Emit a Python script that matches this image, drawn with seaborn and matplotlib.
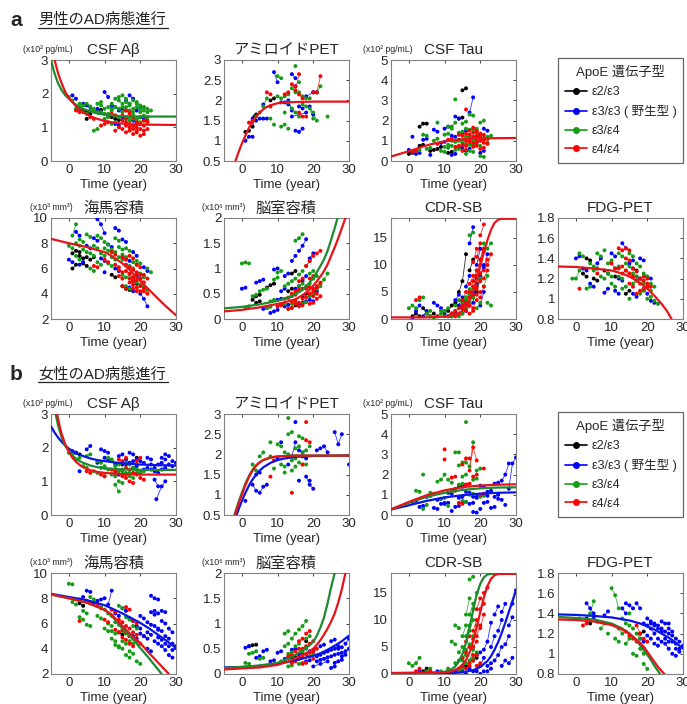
import pandas as pd
import seaborn as sns
import matplotlib.pyplot as plt
from matplotlib.lines import Line2D

GENO = ['e23', 'e33', 'e34', 'e44']
GENO_LABELS = ['ε2/ε3', 'ε3/ε3 ( 野生型 )', 'ε3/ε4', 'ε4/ε4']
COLORS = {'e23': '#000000', 'e33': '#0000ff', 'e34': '#159c15', 'e44': '#ff0000'}
FIT_COLORS = {'e23': '#000000', 'e33': '#0a14e6', 'e34': '#1c8a30', 'e44': '#e6141a'}

# ---------------- male (a) ----------------
M_ABETA = {
    'e23': [[(3, 1.55), (4, 1.5)], [(5, 1.45), (6, 1.4)], [(8, 1.5), (9, 1.52)], [(11, 1.35), (12, 1.3)],
            [(13, 1.25), (14, 1.22)], [(5, 1.25)]],
    'e33': [[(1, 1.95), (2, 1.85)], [(4, 1.7), (5, 1.65), (6, 1.6)], [(10, 2.05), (11, 1.9)], [(14, 1.5), (15, 1.55)],
            [(16, 1.8), (17, 1.7)], [(18, 1.2), (19, 1.1)], [(20, 1.3), (21, 1.25)], [(13, 1.1), (14, 1.05)],
            [(17, 1.95), (18, 1.85)], [(15, 1.3), (16, 1.25)], [(19, 1.5), (20, 1.6)], [(8, 1.55), (9, 1.45)],
            [(12, 1.65), (13, 1.6)]],
    'e34': [[(0, 1.9), (1, 1.8)], [(2, 1.55), (3, 1.6)], [(5, 1.7), (6, 1.62)], [(7, 1.5), (8, 1.45)],
            [(9, 1.65), (10, 1.55)], [(11, 1.4), (12, 1.5)], [(12, 1.7), (13, 1.6)], [(13, 1.35), (14, 1.3)],
            [(14, 1.8), (15, 1.7)], [(15, 1.45), (16, 1.5)], [(16, 1.6), (17, 1.65)], [(17, 1.3), (18, 1.35)],
            [(18, 1.55), (19, 1.6)], [(19, 1.7), (20, 1.65)], [(20, 1.45), (21, 1.5)], [(21, 1.6), (22, 1.55)],
            [(22, 1.45), (23, 1.5)], [(13, 1.85), (14, 1.9)], [(16, 1.25), (17, 1.2)], [(10, 1.25), (11, 1.3)],
            [(19, 1.25), (20, 1.3)], [(8, 1.7), (9, 1.75)], [(15, 1.95), (16, 1.85)], [(12, 1.1), (13, 1.15)],
            [(18, 1.8), (19, 1.75)], [(20, 1.15), (21, 1.2)], [(4, 1.45), (5, 1.4)], [(7, 0.9), (8, 0.95)],
            [(14, 1.55), (15, 1.6)], [(16, 1.75), (17, 1.7)], [(17, 1.5), (18, 1.45)], [(18, 1.25), (19, 1.2)],
            [(20, 1.55), (21, 1.6)], [(21, 1.35), (22, 1.3)], [(11, 1.6), (12, 1.55)], [(9, 1.45), (10, 1.4)],
            [(6, 1.5), (7, 1.55)], [(3, 1.7), (4, 1.65)]],
    'e44': [[(2, 1.5), (3, 1.45)], [(6, 1.3), (7, 1.25)], [(10, 1.1), (11, 1.15)], [(12, 1.4), (13, 1.35)],
            [(14, 1.0), (15, 0.95)], [(15, 1.2), (16, 1.15)], [(16, 0.85), (17, 0.9)], [(17, 1.4), (18, 1.3)],
            [(18, 0.8), (19, 0.85)], [(18, 1.05), (19, 1.0)], [(19, 0.9), (20, 0.95)], [(20, 0.75), (21, 0.8)],
            [(20, 1.1), (21, 1.05)], [(21, 0.9), (22, 0.95)], [(13, 0.9)], [(9, 1.05)], [(16, 1.5), (17, 1.45)],
            [(22, 1.2)], [(17, 1.0), (18, 0.95)], [(19, 1.15), (20, 1.1)], [(15, 1.35), (16, 1.3)],
            [(21, 1.2), (22, 1.15)], [(16, 1.05), (17, 1.1)]],
}
M_ABETA_FIT = {
    'e34': [(-5, 3.0), (-4, 2.6), (-3, 2.3), (-2, 2.1), (-1, 1.95), (0, 1.85), (1, 1.75), (2, 1.67), (3, 1.6),
            (4, 1.55), (6, 1.47), (8, 1.41), (10, 1.38), (12, 1.35), (15, 1.33), (20, 1.32), (30, 1.32)],
    'e44': [(-4, 3.0), (-3, 2.6), (-2, 2.3), (-1, 2.05), (0, 1.88), (1, 1.75), (2, 1.63), (3, 1.53), (4, 1.45),
            (6, 1.33), (8, 1.25), (10, 1.19), (12, 1.15), (15, 1.11), (18, 1.09), (22, 1.08), (30, 1.07)],
}

M_AMY = {
    'e23': [[(1, 1.22), (2, 1.25)], [(3, 1.35), (4, 1.65)], [(8, 2.0), (9, 2.05)], [(3.5, 1.6)]],
    'e33': [[(1, 1.0), (2, 1.1)], [(3, 1.55), (4, 1.5)], [(3, 1.1)], [(5, 1.55), (6, 1.55), (7, 1.55)],
            [(9, 2.7), (10, 2.45)], [(12, 1.95), (13, 1.9)], [(14, 2.65), (15, 2.55)],
            [(15, 1.25), (16, 1.22), (17, 1.3)], [(16, 1.85), (17, 1.8)], [(13, 2.0), (14, 1.75)],
            [(14, 1.6), (18, 1.7)], [(18, 2.1), (20, 2.2)], [(20, 2.2), (21, 2.2)], [(15, 2.35)], [(11, 1.95)],
            [(6, 1.9)], [(19, 1.85), (20, 1.65)]],
    'e34': [[(4, 1.6), (5, 1.7)], [(6, 1.85), (7, 2.05)], [(8, 1.55)], [(10, 2.6), (11, 2.55)],
            [(11, 1.35), (12, 1.4)], [(12, 2.1), (13, 2.15)], [(13, 1.95), (14, 1.8)], [(14, 2.3), (15, 2.2)],
            [(15, 2.85)], [(15, 1.7), (16, 1.6)], [(16, 2.2), (17, 2.1)], [(17, 1.9), (18, 1.85)],
            [(18, 2.05), (19, 2.05)], [(19, 1.8), (20, 1.55)], [(20, 1.7), (21, 1.5)], [(21, 2.2), (22, 2.35)],
            [(24, 1.6)], [(9, 1.4)], [(13, 1.3)], [(16, 2.45)], [(10, 2.1), (11, 2.05)], [(12, 1.7)]],
    'e44': [[(2, 1.45), (3, 1.5)], [(7, 2.2), (8, 2.15)], [(8, 1.85)], [(12, 2.15), (13, 2.2)],
            [(14, 2.4), (15, 2.35)], [(15, 2.25), (16, 2.65)], [(16, 2.15), (17, 2.05)], [(16, 1.7), (17, 1.6)],
            [(18, 1.6)], [(20, 2.2), (21, 2.2), (22, 2.6)]],
}
M_AMY_FIT = {
    'e44': [(-1.8, 0.5), (-1, 0.7), (0, 0.93), (1, 1.13), (2, 1.32), (3, 1.47), (4, 1.6), (5, 1.7), (6, 1.78),
            (7, 1.84), (8, 1.88), (10, 1.93), (12, 1.95), (15, 1.96), (20, 1.97), (30, 1.97)],
}

M_TAU = {
    'e23': [[(0, 0.35), (1, 0.4)], [(3, 1.7), (4, 1.85), (5, 1.85)], [(3, 0.75), (4, 0.8)], [(6, 0.5), (7, 0.55)],
            [(8, 0.6), (9, 0.7)], [(14, 2.1), (15, 2.15)], [(15, 3.5), (16, 3.6)], [(13, 1.0), (14, 1.05)],
            [(11, 0.4), (12, 0.45)]],
    'e33': [[(0, 0.55), (1, 0.45)], [(1, 1.2)], [(2, 0.35), (3, 0.4)], [(4, 1.05), (5, 1.1)], [(6, 0.3)],
            [(7, 1.55), (8, 1.45)], [(9, 0.9), (10, 0.95)], [(10, 1.6), (11, 1.7)], [(12, 0.3), (13, 0.35)],
            [(13, 2.2), (14, 2.1)], [(15, 1.4), (16, 1.5)], [(16, 0.5), (17, 0.6)], [(17, 2.4), (18, 3.15)],
            [(18, 0.8), (19, 0.9)], [(19, 1.25), (20, 1.3)], [(20, 0.4), (21, 0.5)], [(21, 1.6), (22, 1.5)],
            [(12, 1.25), (13, 1.2)], [(14, 0.7), (15, 0.65)]],
    'e34': [[(2, 0.5), (3, 0.55)], [(4, 1.3), (5, 1.25)], [(5, 0.6), (6, 0.65)], [(7, 1.0), (8, 1.1)], [(8, 1.9)],
            [(9, 0.5), (10, 0.45)], [(10, 1.3), (11, 1.35)], [(11, 0.8), (12, 0.75)], [(12, 1.7), (13, 1.9)],
            [(13, 3.05)], [(13, 0.55), (14, 0.6)], [(14, 1.4), (15, 1.45)], [(15, 0.9), (16, 0.85)],
            [(15, 1.85), (16, 1.95)], [(16, 1.2), (17, 1.25)], [(17, 0.5), (18, 0.45)], [(17, 2.3), (18, 2.25)],
            [(18, 1.55), (19, 1.6)], [(19, 0.8), (20, 0.75)], [(20, 1.9), (21, 2.0)], [(20, 0.25), (21, 0.2)],
            [(21, 1.15), (22, 1.2)], [(22, 0.9), (23, 1.25)], [(18, 1.05), (19, 1.0)], [(11, 1.7), (12, 1.6)],
            [(16, 0.35)], [(14, 1.0), (15, 1.05)], [(16, 1.6), (17, 1.55)], [(19, 1.3), (20, 1.35)],
            [(12, 1.0), (13, 0.95)], [(17, 0.8), (18, 0.85)], [(20, 1.05), (21, 1.1)], [(10, 0.7), (11, 0.65)]],
    'e44': [[(1, 0.45), (2, 0.5)], [(8, 0.85)], [(11, 1.05), (12, 1.1)], [(13, 0.7), (14, 0.75)],
            [(14, 1.3), (15, 1.25)], [(15, 0.5), (16, 0.55)], [(16, 2.55)], [(16, 1.0), (17, 0.95)],
            [(17, 1.5), (18, 1.65), (19, 1.5)], [(18, 0.7), (19, 0.75)], [(18, 1.2), (19, 1.15)],
            [(19, 0.95), (20, 1.0)], [(20, 1.35), (21, 1.3)], [(20, 0.6), (21, 0.65)], [(21, 0.9), (22, 0.85)],
            [(17, 1.1), (18, 0.9)], [(16, 1.35), (17, 1.3)], [(19, 1.25), (20, 1.2)], [(21, 1.05), (22, 1.1)],
            [(15, 0.8), (16, 0.75)], [(18, 1.4), (19, 1.45)]],
}
M_TAU_FIT = {
    'e44': [(-5, 0.22), (-2, 0.38), (0, 0.48), (2, 0.6), (4, 0.72), (6, 0.82), (8, 0.9), (10, 0.97), (12, 1.02),
            (14, 1.06), (16, 1.09), (18, 1.11), (20, 1.12), (25, 1.13), (30, 1.14)],
}

M_HIP = {
    'e23': [[(1, 7.2), (2, 7.4), (3, 7.3)], [(1, 6.0), (2, 6.3)], [(3, 7.0), (4, 6.8), (5, 6.9)], [(4, 6.4), (5, 6.2)],
            [(12, 5.5), (13, 5.3)], [(15, 4.6), (16, 4.4), (17, 4.3)], [(18, 5.0), (19, 4.8)], [(6, 6.7), (7, 6.9)]],
    'e33': [[(0, 6.7), (1, 6.5)], [(2, 8.9), (3, 8.6)], [(3, 6.3), (4, 6.5)], [(5, 7.8), (6, 7.6)],
            [(7, 8.4), (8, 8.2)], [(8, 9.9), (9, 9.5), (10, 8.8)], [(9, 6.8), (10, 6.6)], [(11, 7.9), (12, 7.7)],
            [(13, 9.2), (14, 9.0)], [(13, 6.0), (14, 5.8)], [(15, 8.3), (16, 8.1)], [(16, 6.8), (17, 6.6)],
            [(17, 4.5), (18, 4.2)], [(18, 7.3), (19, 7.0)], [(19, 5.4), (20, 5.2)], [(20, 4.0), (21, 3.6), (22, 3.0)],
            [(10, 5.7)], [(21, 6.1), (22, 5.8)]],
    'e34': [[(1, 8.6), (2, 9.5)], [(0, 7.8), (1, 7.6)], [(2, 7.0), (3, 6.7)], [(3, 8.3), (4, 8.1)],
            [(4, 7.5), (5, 7.3)], [(5, 8.7), (6, 8.5)], [(6, 6.0), (7, 5.8)], [(7, 7.8), (8, 7.6)],
            [(8, 8.6), (9, 8.4)], [(9, 7.2), (10, 7.0)], [(10, 8.1), (11, 7.9)], [(11, 6.4), (12, 6.2)],
            [(12, 7.5), (13, 7.3)], [(13, 8.4), (14, 8.2)], [(14, 6.9), (15, 6.7)], [(15, 5.5), (16, 5.3)],
            [(16, 7.6), (17, 7.4)], [(17, 6.2), (18, 6.0)], [(18, 5.1), (19, 4.9)], [(19, 6.6), (20, 6.4)],
            [(20, 5.6), (21, 5.3)], [(21, 4.6), (22, 4.3)], [(22, 6.0), (23, 5.7)], [(14, 7.7), (15, 7.5)],
            [(8, 6.5), (9, 6.3)], [(16, 4.6), (17, 4.4)], [(10, 7.6), (11, 7.4)], [(12, 6.9), (13, 6.7)],
            [(15, 7.1), (16, 6.9)], [(17, 5.5), (18, 5.3)], [(18, 6.5), (19, 6.3)], [(20, 4.7), (21, 4.5)],
            [(6, 7.2), (7, 7.0)], [(2, 8.0), (3, 7.8)]],
    'e44': [[(7, 6.2), (8, 6.1)], [(10, 6.7), (11, 6.5)], [(12, 7.3), (13, 7.1)], [(13, 6.3), (14, 6.1)],
            [(14, 5.4), (15, 5.2)], [(15, 6.9), (16, 6.7)], [(16, 5.8), (17, 5.6)], [(17, 4.9), (18, 4.7)],
            [(17, 7.0), (18, 6.8)], [(18, 5.9), (19, 5.6)], [(19, 4.5), (20, 4.2)], [(19, 6.3), (20, 6.1)],
            [(20, 5.2), (21, 4.9)], [(21, 4.2), (22, 4.0)], [(15, 4.6), (16, 4.4)], [(18, 5.3), (19, 5.1)],
            [(16, 6.3), (17, 6.1)], [(18, 4.4), (19, 4.2)], [(19, 5.7), (20, 5.5)], [(20, 4.6), (21, 4.4)],
            [(17, 5.2), (18, 5.0)], [(21, 5.5), (22, 5.2)], [(14, 5.9), (15, 5.7)]],
}
M_HIP_FIT = {
    'e44': [(-5, 8.35), (0, 8.0), (5, 7.7), (10, 7.3), (12, 7.0), (15, 6.4), (17, 5.9), (20, 5.0), (22, 4.45),
            (25, 3.6), (27, 3.05), (30, 2.3)],
}

M_VENT = {
    'e23': [[(3, 0.38), (4, 0.45), (5, 0.48)], [(7, 0.62), (8, 0.67), (9, 0.7)], [(4, 0.32), (5, 0.35)],
            [(13, 0.55), (14, 0.6)], [(15, 0.27), (16, 0.3)], [(17, 0.45), (18, 0.5)], [(14, 0.9), (15, 0.95)]],
    'e33': [[(0, 0.6), (1, 0.62)], [(4, 0.72), (5, 0.75), (6, 0.78)], [(6, 0.2), (7, 0.22)],
            [(8, 0.12), (9, 0.15), (10, 0.18)], [(9, 0.98), (10, 1.0)], [(11, 0.55), (12, 0.6)],
            [(12, 0.25), (13, 0.28)], [(14, 1.15), (15, 1.25)], [(16, 1.35), (17, 1.45), (18, 1.58)],
            [(16, 0.3), (17, 0.32)], [(17, 0.75), (18, 0.85)], [(18, 0.35), (19, 0.38), (20, 0.35)],
            [(19, 1.2), (20, 1.3)], [(20, 0.5), (21, 0.55)], [(12, 0.85), (13, 0.9)], [(15, 0.6), (16, 0.65)],
            [(10, 0.38), (11, 0.4)]],
    'e34': [[(0, 1.1), (1, 1.12), (2, 1.1)], [(1, 0.22), (2, 0.25)], [(3, 0.45), (4, 0.48)],
            [(5, 0.55), (6, 0.58), (7, 0.6)], [(8, 0.35), (9, 0.38)], [(9, 0.78), (10, 0.82)],
            [(10, 0.92), (11, 0.95)], [(11, 0.28), (12, 0.3)], [(12, 0.65), (13, 0.7)], [(13, 0.42), (14, 0.45)],
            [(14, 0.75), (15, 0.8)], [(15, 1.55), (16, 1.6), (17, 1.68)], [(15, 0.5), (16, 0.55)],
            [(16, 0.88), (17, 0.95)], [(17, 0.3), (18, 0.33)], [(18, 0.65), (19, 0.7)], [(18, 1.05), (19, 1.15)],
            [(19, 0.45), (20, 0.5)], [(20, 0.8), (21, 0.85)], [(21, 0.6), (22, 0.65)],
            [(22, 0.7), (23, 0.78), (24, 0.9)], [(7, 0.22), (8, 0.24)], [(13, 0.2), (14, 0.22)],
            [(16, 0.65), (17, 0.7)], [(19, 0.9), (20, 0.95)], [(14, 0.3), (15, 0.32)]],
    'e44': [[(10, 0.25), (11, 0.27)], [(12, 0.4), (13, 0.42)], [(13, 0.2), (14, 0.22)], [(14, 0.35), (15, 0.37)],
            [(15, 0.55), (16, 0.58)], [(16, 0.25), (17, 0.27)], [(16, 0.75), (17, 0.8)], [(17, 0.4), (18, 0.43)],
            [(18, 1.05), (19, 1.15), (20, 1.25)], [(18, 0.6), (19, 0.63)], [(19, 0.3), (20, 0.32)],
            [(19, 0.8), (20, 0.85)], [(20, 0.45), (21, 0.5)], [(21, 0.65), (22, 0.72)], [(21, 1.3), (22, 1.35)],
            [(20, 0.6), (21, 0.62)], [(14, 0.5), (15, 0.48)], [(17, 0.6), (18, 0.62)], [(19, 0.5), (20, 0.55)],
            [(15, 0.3), (16, 0.32)], [(21, 0.4), (22, 0.45)]],
}
M_VENT_FIT = {
    'e34': [(-5, 0.21), (0, 0.24), (5, 0.29), (10, 0.36), (13, 0.43), (15, 0.49), (17, 0.58), (19, 0.72),
            (20, 0.82), (21, 0.93), (22, 1.05), (23, 1.18), (24, 1.35), (25, 1.57), (26, 1.8), (26.8, 2.0)],
    'e44': [(-5, 0.15), (0, 0.18), (5, 0.23), (10, 0.3), (13, 0.35), (15, 0.39), (17, 0.47), (19, 0.58),
            (20, 0.66), (21, 0.75), (22, 0.84), (23, 0.95), (24, 1.08), (25, 1.25), (26, 1.42), (27, 1.6),
            (28, 1.8), (29, 2.0)],
}

M_CDR = {
    'e23': [[(1, 0.5), (2, 1.0), (3, 0.5)], [(4, 2.0), (5, 1.0)], [(6, 0.5), (7, 1.0)],
            [(11, 1.5), (12, 2.5), (13, 3.0)], [(14, 5.0), (15, 7.0), (16, 12.0)], [(17, 9.0), (18, 11.0)],
            [(15, 2.0), (16, 3.5)], [(18, 4.0), (19, 5.0)]],
    'e33': [[(1, 0.0), (2, 1.5), (3, 2.5)], [(4, 0.5), (5, 1.5)], [(7, 3.0), (8, 2.5)], [(9, 2.0), (10, 1.0)],
            [(12, 0.5), (13, 1.0)], [(14, 2.5), (15, 4.0)], [(16, 6.0), (17, 8.0)], [(17, 14.0), (18, 17.0)],
            [(18, 3.0), (19, 6.5)], [(19, 10.0), (20, 13.0)], [(20, 2.5), (21, 5.0)], [(21, 9.5), (22, 12.0)],
            [(16, 1.5), (17, 2.5)], [(13, 3.5), (14, 4.5)], [(18, 5.0), (19, 7.5)], [(20, 8.0), (21, 10.0)],
            [(15, 2.0), (16, 3.0)], [(11, 0.5), (12, 1.0)]],
    'e34': [[(0, 2.0), (1, 2.5), (2, 2.0)], [(3, 3.5), (4, 4.0)], [(5, 1.0), (6, 1.5)], [(8, 0.5), (9, 1.0)],
            [(10, 1.5), (11, 2.0)], [(12, 0.5), (13, 1.5)], [(13, 2.5), (14, 3.5)], [(15, 1.0), (16, 2.0)],
            [(16, 4.0), (17, 5.5)], [(17, 3.0), (18, 4.0)], [(18, 7.0), (19, 9.0)], [(19, 2.0), (20, 3.0)],
            [(20, 11.0), (21, 14.0)], [(21, 6.0), (22, 8.0)], [(22, 13.0), (23, 14.0)], [(22, 3.0), (23, 2.5)],
            [(14, 0.5), (15, 1.0)], [(17, 15.5), (18, 16.0)], [(15, 3.0), (16, 3.5)], [(17, 4.5), (18, 5.5)],
            [(19, 6.0), (20, 7.5)], [(11, 0.5), (12, 1.0)], [(6, 0.5), (7, 0.0)], [(9, 1.5), (10, 0.5)]],
    'e44': [[(2, 3.5), (3, 4.0)], [(8, 0.5)], [(12, 1.0), (13, 1.5)], [(14, 2.0), (15, 2.5)], [(15, 3.5), (16, 5.0)],
            [(16, 1.5), (17, 2.5)], [(17, 6.5), (18, 8.0)], [(18, 2.0), (19, 3.5)], [(18, 10.5), (19, 13.0)],
            [(19, 5.5), (20, 7.0)], [(20, 4.0), (21, 6.0)], [(20, 15.5), (21, 17.5)], [(21, 9.0), (22, 11.0)],
            [(22, 10.0), (23, 12.0)], [(17, 1.0), (18, 1.5)], [(19, 11.5), (20, 14.0)],
            [(16, 3.0), (17, 4.0), (18, 6.0)], [(17, 5.0), (18, 7.0), (19, 9.0)], [(18, 4.5), (19, 6.0), (20, 8.5)],
            [(19, 8.0), (20, 11.0), (21, 13.0)], [(20, 10.0), (21, 12.5)], [(15, 2.0), (16, 2.5)],
            [(19, 4.5), (20, 5.0)], [(21, 7.5), (22, 9.0)], [(13, 0.5), (14, 1.0)]],
}
M_CDR_FIT = {
    'e44': [(-5, 0.3), (5, 0.3), (10, 0.45), (12, 0.7), (14, 1.1), (15, 1.5), (16, 2.3), (17, 3.5), (18, 5.2),
            (19, 7.3), (20, 9.8), (21, 12.3), (22, 14.6), (23, 16.5), (24, 17.8), (25, 18.4), (26, 18.55),
            (30, 18.55)],
}

M_FDG = {
    'e23': [[(2, 1.25), (3, 1.22)], [(3, 1.4), (4, 1.38)], [(5, 1.2), (6, 1.18)], [(8, 1.28), (9, 1.25)],
            [(11, 1.22)], [(14, 1.05), (15, 1.08)], [(16, 1.3), (17, 1.28)], [(6, 1.3)]],
    'e33': [[(0, 1.4), (1, 1.42)], [(2, 1.3), (3, 1.28)], [(4, 1.15), (5, 1.12)], [(6, 1.35), (7, 1.4)],
            [(8, 1.06), (9, 1.1)], [(10, 1.45), (11, 1.42)], [(12, 1.2), (13, 1.18)], [(13, 1.55), (14, 1.5)],
            [(15, 1.35), (16, 1.38)], [(16, 1.05), (17, 1.02)], [(18, 1.4), (19, 1.38)], [(19, 1.1), (20, 1.05)],
            [(20, 1.22), (21, 1.2)], [(21, 0.98), (22, 0.96)], [(11, 1.08), (12, 1.05)], [(17, 1.22), (18, 1.2)]],
    'e34': [[(-1, 1.2), (0, 1.2), (1, 1.28)], [(1, 1.45), (2, 1.42)], [(3, 1.1), (4, 1.12)], [(4, 1.35), (5, 1.32)],
            [(6, 1.45), (7, 1.42)], [(7, 1.22), (8, 1.2)], [(9, 1.35), (10, 1.38)], [(10, 1.15), (11, 1.12)],
            [(11, 1.3), (12, 1.32)], [(12, 1.45), (13, 1.42)], [(13, 1.1), (14, 1.12)], [(14, 1.28), (15, 1.25)],
            [(15, 1.45), (16, 1.42)], [(16, 1.15), (17, 1.18)], [(17, 1.35), (18, 1.32)], [(18, 1.05), (19, 1.08)],
            [(19, 1.25), (20, 1.22)], [(20, 1.0), (21, 1.02)], [(21, 1.15), (22, 1.12)], [(22, 0.98), (23, 0.95)],
            [(8, 1.48)], [(15, 1.0)], [(14, 1.35), (15, 1.32)], [(16, 1.25), (17, 1.22)], [(18, 1.2), (19, 1.15)],
            [(20, 1.12), (21, 1.08)], [(12, 1.22), (13, 1.2)], [(9, 1.25), (10, 1.22)], [(5, 1.28), (6, 1.3)]],
    'e44': [[(1, 1.1)], [(6, 1.25)], [(10, 1.35), (11, 1.3)], [(12, 1.5), (13, 1.48)], [(13, 1.25), (14, 1.28)],
            [(14, 1.4), (15, 1.38)], [(15, 1.15), (16, 1.12)], [(16, 1.3), (17, 1.27)], [(17, 1.05), (18, 1.08)],
            [(18, 1.2), (19, 1.18)], [(19, 1.1), (20, 1.12)], [(20, 1.15), (21, 1.12)], [(14, 1.5), (15, 1.48)],
            [(15, 1.25), (16, 1.22)], [(17, 1.18), (18, 1.15)], [(19, 1.22), (20, 1.2)], [(12, 1.3), (13, 1.32)]],
}
M_FDG_FIT = {
    'e44': [(-5, 1.32), (0, 1.315), (5, 1.3), (10, 1.28), (13, 1.25), (15, 1.22), (17, 1.18), (19, 1.13),
            (20, 1.1), (22, 1.03), (24, 0.95), (25.5, 0.88), (26.8, 0.8)],
}

# ---------------- female (b) ----------------
F_ABETA = {
    'e23': [[(2, 1.85), (3, 1.8)], [(15, 1.5)], [(19, 1.7)]],
    'e33': [[(1, 1.9), (2, 1.85)], [(3, 1.3)], [(5, 1.95), (6, 2.05)], [(8, 1.55)], [(9, 1.95), (10, 1.9), (11, 1.85)],
            [(12, 1.6), (13, 1.5)], [(14, 1.75), (15, 1.8)], [(16, 1.65), (17, 1.55)], [(18, 1.4), (19, 1.45)],
            [(20, 1.6), (21, 1.55)], [(21, 1.35), (22, 1.4)], [(22, 1.7), (23, 1.65)], [(24, 1.05), (25, 0.85)],
            [(25, 1.5), (26, 1.55)], [(26, 1.35), (27, 1.4)], [(27, 1.8), (28, 1.75)], [(28, 1.5), (29, 1.45)],
            [(29, 1.6), (30, 1.55)], [(24, 1.3), (25, 1.25)], [(17, 1.85), (18, 1.8)], [(13, 1.25), (14, 1.2)],
            [(23, 1.5)], [(24.5, 0.47), (26, 0.85), (27, 1.0)], [(18, 1.6), (19, 1.65)], [(23, 1.35), (24, 1.4)],
            [(26, 1.7), (27, 1.65)], [(15, 1.55), (16, 1.5)], [(10, 1.7), (11, 1.65)]],
    'e34': [[(0, 1.85), (1, 1.8)], [(2, 1.65), (3, 1.7)], [(4, 1.45), (5, 1.4)], [(5, 1.75), (6, 1.8)],
            [(7, 1.3), (8, 1.25)], [(8, 1.6), (9, 1.55)], [(10, 1.4), (11, 1.35)], [(11, 1.7), (12, 1.65)],
            [(12, 1.2), (13, 1.15)], [(13, 1.45), (14, 1.5)], [(14, 1.0), (15, 0.95)], [(15, 1.3), (16, 1.25)],
            [(16, 1.55), (17, 1.5)], [(17, 1.15), (18, 1.1)], [(18, 1.4), (19, 1.35)], [(20, 1.25), (21, 1.3)],
            [(13, 0.9), (14, 0.7)], [(10, 1.15)], [(14, 1.3), (15, 1.35)], [(16, 1.2), (17, 1.25)],
            [(9, 1.4), (10, 1.45)], [(19, 1.25), (20, 1.3)]],
    'e44': [[(5, 1.3), (6, 1.25)], [(9, 1.2), (10, 1.15)], [(12, 1.35), (13, 1.3)], [(14, 1.65), (15, 1.6)],
            [(15, 1.15), (16, 1.1)], [(16, 1.4), (17, 1.35)], [(17, 1.0), (18, 0.95)], [(18, 1.25), (19, 1.2)],
            [(19, 1.6), (20, 1.7)], [(20, 1.1), (21, 1.05)], [(16, 1.7)]],
}
F_ABETA_FIT = {
    'e33': [(-5, 2.63), (-4, 2.45), (-3, 2.3), (-2, 2.17), (-1, 2.06), (0, 1.97), (2, 1.84), (4, 1.75),
            (6, 1.68), (8, 1.63), (10, 1.6), (13, 1.56), (16, 1.53), (20, 1.5), (25, 1.48), (30, 1.47)],
    'e34': [(-3.7, 3.0), (-3, 2.65), (-2, 2.3), (-1, 2.05), (0, 1.9), (1, 1.77), (2, 1.67), (3, 1.6), (4, 1.55),
            (6, 1.47), (8, 1.42), (10, 1.39), (12, 1.37), (16, 1.35), (20, 1.34), (30, 1.34)],
    'e44': [(-3.3, 3.0), (-2.5, 2.6), (-2, 2.4), (-1, 2.1), (0, 1.88), (1, 1.7), (2, 1.58), (3, 1.49), (4, 1.42),
            (6, 1.33), (8, 1.28), (10, 1.25), (13, 1.23), (16, 1.21), (20, 1.2), (30, 1.2)],
}

F_AMY = {
    'e33': [[(1, 0.85)], [(3, 1.25), (4, 1.1), (5, 1.05), (6, 1.2), (7, 1.25)], [(4, 1.5), (5, 1.55)], [(10, 1.9)],
            [(13, 1.75)], [(14, 1.95), (15, 2.3)], [(15, 2.8)], [(16, 1.35)], [(17, 1.95), (18, 1.9)],
            [(18, 1.45), (19, 1.25), (20, 1.15)], [(19, 1.35)], [(21, 2.1), (22, 2.15)], [(23, 2.2), (24, 2.05)],
            [(26, 2.55), (27, 2.25), (28, 2.5)], [(30, 1.75)], [(11, 2.3)], [(16, 2.1), (17, 2.05)]],
    'e34': [[(3, 1.75), (4, 1.6)], [(5, 1.95), (6, 2.05)], [(8, 2.3)], [(9, 1.65)], [(10, 2.25), (11, 2.2)],
            [(11, 1.75), (12, 1.7)], [(12, 2.05), (13, 2.0)], [(13, 2.5), (14, 2.55)], [(13, 2.9)],
            [(14, 1.85), (15, 1.9)], [(14, 1.6), (15, 1.7)], [(15, 2.15), (16, 2.2)], [(16, 1.8), (17, 1.75)],
            [(17, 2.05), (18, 2.1)], [(18, 1.75)], [(19, 2.2)], [(12, 1.55)], [(8, 1.95)], [(16, 2.45), (17, 2.4)]],
    'e44': [[(8, 1.45)], [(14, 1.05)], [(18, 2.8)], [(18, 2.35), (19, 2.3)], [(17, 1.75)], [(9, 1.85)]],
}
F_AMY_FIT = {
    'e33': [(-1.5, 0.5), (-1, 0.62), (0, 0.85), (1, 1.05), (2, 1.23), (3, 1.38), (4, 1.5), (5, 1.6), (6, 1.68),
            (8, 1.79), (10, 1.86), (12, 1.9), (15, 1.94), (20, 1.96), (30, 1.97)],
    'e34': [(-2.1, 0.5), (-1, 0.8), (0, 1.05), (1, 1.28), (2, 1.47), (3, 1.62), (4, 1.73), (5, 1.81), (6, 1.86),
            (8, 1.92), (10, 1.95), (15, 1.97), (30, 1.97)],
    'e44': [(-1.9, 0.5), (-1, 0.75), (0, 1.0), (1, 1.24), (2, 1.44), (3, 1.6), (4, 1.72), (5, 1.8), (6, 1.86),
            (8, 1.92), (10, 1.95), (15, 1.97), (30, 1.97)],
}

F_TAU = {
    'e23': [[(14, 1.4), (15, 1.45)], [(16, 1.5)]],
    'e33': [[(1, 0.65), (2, 0.7)], [(3, 0.4), (4, 0.45)], [(5, 0.9), (6, 0.95)], [(7, 0.35), (8, 0.3)],
            [(8, 0.75), (9, 0.8)], [(10, 0.55), (11, 0.6)], [(11, 1.1), (12, 1.05)], [(13, 0.4), (14, 0.45)],
            [(14, 0.85), (15, 0.9)], [(16, 1.15), (17, 1.1)], [(17, 0.55), (18, 0.6)], [(18, 0.15), (19, 0.12)],
            [(19, 0.9), (20, 0.95)], [(20, 1.45), (21, 1.4)], [(21, 0.6), (22, 0.65)], [(22, 1.15), (23, 1.2)],
            [(23, 0.35), (24, 0.4)], [(24, 1.55), (25, 1.6)], [(25, 0.8), (26, 0.75)],
            [(26, 1.7), (27, 2.0), (28, 2.55)], [(28, 1.3), (29, 2.55), (30, 2.85)], [(27, 0.5)], [(12, 0.2)],
            [(15, 1.4)], [(20, 0.3)], [(18, 0.9), (19, 0.85)], [(21, 1.0), (22, 0.95)], [(24, 0.9), (25, 1.0)],
            [(15, 0.6), (16, 0.65)], [(9, 0.55), (10, 0.6)]],
    'e34': [[(2, 1.2), (3, 1.15)], [(4, 2.0)], [(4, 0.3), (5, 0.5)], [(6, 1.1), (7, 1.05)],
            [(8, 1.65), (9, 1.75), (10, 2.0)], [(9, 0.8), (10, 0.85)], [(11, 1.75), (12, 1.6)],
            [(12, 1.2), (13, 1.3)], [(13, 3.1), (14, 3.1)], [(14, 2.45), (15, 2.6)], [(15, 1.9), (16, 2.0)],
            [(15, 0.7), (16, 0.65)], [(16, 4.6)], [(16, 2.6), (17, 2.4), (18, 3.6)], [(17, 1.0), (18, 1.05)],
            [(18, 1.75), (19, 1.8)], [(19, 2.2), (20, 2.3)], [(20, 0.9), (21, 0.95)], [(11, 0.45)],
            [(14, 1.5), (15, 1.55)]],
    'e44': [[(10, 3.25)], [(10, 2.75)], [(12, 1.85), (13, 1.9)], [(14, 0.6), (15, 0.55)],
            [(15, 2.5), (16, 2.8), (17, 2.8)], [(16, 1.5), (17, 1.55)], [(17, 2.2), (18, 3.35), (19, 2.7)],
            [(18, 1.9), (19, 2.0)], [(20, 1.0), (21, 1.05)], [(21, 2.3)], [(13, 1.2)]],
}
F_TAU_FIT = {
    'e33': [(-5, 0.27), (0, 0.48), (5, 0.7), (10, 0.87), (15, 0.98), (20, 1.06), (25, 1.1), (30, 1.12)],
    'e34': [(-5, 0.27), (0, 0.6), (5, 0.9), (10, 1.1), (15, 1.24), (20, 1.32), (25, 1.36), (30, 1.37)],
    'e44': [(-5, 0.28), (0, 0.65), (5, 0.98), (10, 1.22), (15, 1.38), (20, 1.46), (25, 1.5), (30, 1.52)],
}

F_HIP = {
    'e23': [[(3, 7.6), (4, 7.4)], [(14, 5.3), (15, 5.1)], [(17, 5.0), (18, 4.9)]],
    'e33': [[(3, 7.9), (4, 8.1)], [(5, 8.6), (6, 8.5)], [(7, 7.6), (8, 7.8)], [(9, 7.9), (10, 8.0)],
            [(11, 7.5), (12, 8.6)], [(13, 6.8), (14, 6.6)], [(15, 7.2), (16, 7.0)], [(17, 6.4), (18, 6.2)],
            [(19, 5.8), (20, 5.6)], [(20, 6.6), (21, 6.4)], [(21, 5.0), (22, 4.8)], [(22, 6.1), (23, 5.9)],
            [(23, 8.2), (24, 8.0), (25, 7.9)], [(24, 7.0), (25, 6.8)], [(25, 5.6), (26, 5.4)], [(26, 4.2), (27, 3.9)],
            [(26, 7.0), (27, 6.9)], [(27, 5.0), (28, 4.8)], [(28, 3.5), (29, 3.3)], [(29, 4.4), (30, 4.2)],
            [(24, 4.6), (25, 4.4)], [(22, 4.0), (23, 3.8)], [(18, 5.0), (19, 4.8)], [(22, 5.3), (23, 5.1)],
            [(24, 5.8), (25, 5.5)], [(26, 6.2), (27, 6.0)], [(27, 4.4), (28, 4.2)], [(28, 5.6), (29, 5.3)],
            [(29, 3.9), (30, 4.1)], [(25, 4.9), (26, 4.7)], [(23, 6.9), (24, 6.7)], [(20, 5.2), (21, 5.0)]],
    'e34': [[(0, 9.15), (1, 9.1)], [(1, 7.7), (2, 7.5)], [(3, 6.5), (4, 6.3)], [(4, 7.0), (5, 6.8)],
            [(5, 5.9), (6, 5.8)], [(6, 8.1), (7, 7.9)], [(8, 6.6), (9, 6.4)], [(9, 7.3), (10, 7.1)],
            [(10, 5.6), (11, 5.4)], [(11, 6.8), (12, 6.6)], [(12, 4.8), (13, 4.6)], [(13, 6.1), (14, 5.9)],
            [(14, 7.4), (15, 7.2)], [(14, 4.2), (15, 4.0)], [(15, 5.4), (16, 5.2)], [(16, 3.5), (17, 3.3)],
            [(16, 6.5), (17, 6.3)], [(17, 4.6), (18, 4.4)], [(18, 5.8), (19, 5.6)], [(19, 3.0), (20, 2.8)],
            [(12, 5.4), (13, 5.2)], [(13, 4.3), (14, 4.1)], [(15, 4.6), (16, 4.4)], [(11, 6.0), (12, 5.8)],
            [(17, 3.8), (18, 3.6)]],
    'e44': [[(3, 6.2)], [(5, 7.8), (6, 7.6)], [(8, 7.4), (9, 7.2)], [(10, 6.3), (11, 6.1)], [(12, 7.1), (13, 6.9)],
            [(13, 5.5), (14, 5.3)], [(14, 6.3), (15, 6.1)], [(15, 4.9), (16, 4.7)], [(16, 5.8), (17, 5.6)],
            [(17, 4.4), (18, 4.2)], [(18, 5.3), (19, 5.1)], [(19, 4.6), (20, 4.4)], [(16, 7.3), (17, 7.1)],
            [(15, 5.5), (16, 5.3)], [(17, 5.0), (18, 4.8)], [(18, 6.2), (19, 6.0)]],
}
F_HIP_FIT = {
    'e33': [(-5, 8.35), (0, 8.1), (5, 7.85), (10, 7.45), (15, 6.8), (20, 6.05), (22.5, 5.6), (25, 5.1),
            (27.5, 4.6), (30, 4.05)],
    'e34': [(-5, 8.3), (0, 8.0), (5, 7.65), (10, 7.1), (12, 6.6), (15, 5.6), (18, 4.75), (20, 4.05), (22, 3.4),
            (24, 2.7), (26, 2.0)],
    'e44': [(-5, 8.3), (0, 8.0), (5, 7.65), (10, 7.1), (12, 6.7), (15, 5.8), (18, 4.95), (20, 4.45), (22, 3.8),
            (24, 3.2), (26, 2.6), (28, 2.0)],
}

F_VENT = {
    'e23': [[(2, 0.55), (3, 0.57), (4, 0.58)], [(14, 0.32), (15, 0.33)], [(18, 0.65)]],
    'e33': [[(1, 0.52), (2, 0.55)], [(4, 0.32), (5, 0.35)], [(6, 0.45), (7, 0.48)], [(8, 0.25), (9, 0.27)],
            [(10, 0.42), (11, 0.45)], [(12, 0.3), (13, 0.32)], [(14, 0.48), (15, 0.5)], [(16, 0.38), (17, 0.4)],
            [(18, 0.25), (19, 0.27)], [(19, 0.45), (20, 0.48)], [(20, 0.15), (22, 0.2), (24, 0.25)],
            [(21, 0.35), (22, 0.38)], [(22, 0.55), (23, 0.58)], [(23, 0.3), (24, 0.33)], [(24, 0.45), (25, 0.48)],
            [(25, 0.65), (26, 0.68)], [(26, 0.22), (27, 0.25), (28, 0.28)], [(27, 0.5), (28, 0.53)],
            [(28, 0.35), (29, 0.38)], [(29, 0.6), (30, 0.7)], [(25, 0.12), (26, 0.15)], [(23, 0.42), (24, 0.45)],
            [(25, 0.35), (26, 0.38)], [(27, 0.4), (28, 0.42)], [(29, 0.45), (30, 0.5)], [(26, 0.5), (27, 0.55)],
            [(21, 0.25), (22, 0.28)]],
    'e34': [[(1, 0.22), (2, 0.2)], [(2, 0.4), (3, 0.42), (4, 0.45)], [(5, 0.3), (6, 0.32)], [(11, 0.25), (12, 0.27)],
            [(12, 0.55), (13, 0.6)], [(13, 0.15), (14, 0.17)], [(13, 0.4), (14, 0.43)], [(14, 0.7), (15, 0.8)],
            [(15, 0.3), (16, 0.32)], [(15, 0.55), (16, 0.6)], [(16, 0.88), (17, 0.95), (18, 1.05)],
            [(16, 0.2), (17, 0.22)], [(17, 0.45), (18, 0.5)], [(18, 0.7), (19, 0.75)], [(19, 0.35), (20, 0.4)],
            [(12, 0.8), (13, 0.85)]],
    'e44': [[(13, 0.35), (14, 0.38)], [(14, 0.22), (15, 0.25)], [(15, 0.45), (16, 0.5)], [(16, 0.3), (17, 0.33)],
            [(16, 0.65), (17, 0.7)], [(17, 0.2), (18, 0.22)], [(17, 0.5), (18, 0.55)], [(18, 0.38), (19, 0.42)],
            [(19, 0.6), (20, 0.65)], [(18, 0.8), (19, 0.85)], [(20, 0.45), (21, 0.5)], [(20, 0.3)]],
}
F_VENT_FIT = {
    'e33': [(-5, 0.13), (0, 0.14), (5, 0.16), (10, 0.2), (15, 0.27), (20, 0.36), (22, 0.41), (24, 0.48),
            (26, 0.56), (28, 0.65), (30, 0.76)],
    'e34': [(-5, 0.12), (0, 0.14), (5, 0.17), (10, 0.22), (13, 0.3), (15, 0.38), (17, 0.47), (19, 0.57),
            (20, 0.64), (21, 0.76), (22, 0.92), (23, 1.12), (24, 1.4), (25, 1.72), (26, 2.0)],
    'e44': [(-5, 0.09), (0, 0.11), (5, 0.13), (10, 0.18), (13, 0.25), (15, 0.31), (17, 0.38), (19, 0.45),
            (20, 0.5), (21, 0.58), (22, 0.67), (23, 0.78), (24, 0.9), (25, 1.04), (26, 1.2), (27, 1.42),
            (28, 1.68), (29, 2.0)],
}

F_CDR = {
    'e23': [[(4, 0.5), (5, 1.0)], [(15, 1.0), (16, 1.5)], [(18, 2.5), (19, 3.0)], [(13, 0.5)]],
    'e33': [[(2, 0.0), (3, 0.5)], [(7, 0.0), (8, 0.5)], [(12, 0.0), (13, 0.5)], [(15, 0.5), (16, 0.0)],
            [(17, 1.0), (18, 0.5)], [(19, 0.5), (20, 1.5), (21, 3.0)], [(20, 0.0), (21, 0.5)],
            [(21, 4.5), (22, 6.0), (23, 9.5)], [(22, 1.5), (23, 2.0)], [(23, 5.0), (24, 7.0)],
            [(24, 2.5), (25, 3.5), (26, 5.0)], [(24, 11.0), (25, 12.5)], [(25, 8.0), (26, 10.0)],
            [(26, 1.5), (27, 2.5)], [(26, 11.5), (27, 13.0)], [(27, 5.5), (28, 7.0)], [(28, 9.0), (29, 10.5)],
            [(28, 2.0), (29, 3.0)], [(29, 13.0), (30, 15.5)], [(22, 0.5), (23, 1.0)], [(19, 3.5), (20, 4.0)]],
    'e34': [[(0, 2.0), (1, 1.5), (2, 2.0), (3, 3.0)], [(5, 0.5), (6, 1.0)], [(8, 0.0), (9, 0.5)],
            [(11, 1.0), (12, 0.5)], [(12, 6.0), (13, 5.5)], [(13, 2.0), (14, 2.5)], [(14, 4.0), (15, 5.0)],
            [(15, 7.0), (16, 9.0)], [(15, 1.5), (16, 2.0)], [(16, 11.0), (17, 14.0)], [(16, 4.5), (17, 5.5)],
            [(17, 8.0), (18, 10.0)], [(17, 17.5), (18, 18.0)], [(18, 12.0), (19, 15.0)], [(18, 3.0), (19, 4.0)],
            [(14, 0.5), (15, 1.0)], [(13, 9.0), (14, 8.5)], [(16, 7.0), (17, 9.0)], [(17, 11.0), (18, 13.0)],
            [(18, 7.0), (19, 9.0)], [(15, 2.5), (16, 3.5)], [(17, 2.5), (18, 4.5)]],
    'e44': [[(2, 0.5), (3, 1.0)], [(6, 0.5)], [(14, 1.0), (15, 1.5)], [(15, 3.0), (16, 4.0)], [(16, 6.0), (17, 7.0)],
            [(17, 2.0), (18, 3.5)], [(18, 8.0), (19, 10.0)], [(18, 5.0), (19, 6.0)], [(19, 12.0), (20, 14.0)],
            [(19, 1.5), (20, 2.0)], [(20, 8.5), (21, 11.0)], [(21, 15.0), (22, 16.0)], [(16, 1.0), (17, 1.5)],
            [(17, 5.0), (18, 6.5)], [(19, 7.0), (20, 9.0)], [(20, 12.0), (21, 13.0)], [(18, 2.5), (19, 3.5)]],
}
F_CDR_FIT = {
    'e33': [(-5, 0.05), (10, 0.1), (15, 0.3), (18, 0.7), (20, 1.3), (22, 2.4), (23, 3.3), (24, 4.5), (25, 5.9),
            (26, 7.6), (27, 9.5), (28, 11.5), (29, 13.5), (30, 15.5)],
    'e34': [(-5, 0.2), (8, 0.25), (10, 0.4), (12, 0.9), (13, 1.4), (14, 2.3), (15, 3.7), (16, 5.8), (17, 8.6),
            (18, 11.8), (19, 14.7), (20, 16.7), (21, 17.9), (22, 18.4), (23, 18.55), (30, 18.55)],
    'e44': [(-5, 0.15), (10, 0.3), (12, 0.5), (14, 1.1), (15, 1.7), (16, 2.6), (17, 4.0), (18, 6.0), (19, 8.6),
            (20, 11.5), (21, 14.2), (22, 16.3), (23, 17.6), (24, 18.3), (25, 18.5), (30, 18.55)],
}

F_FDG = {
    'e23': [[(3, 1.35), (4, 1.3)], [(18, 1.2), (19, 1.22)]],
    'e33': [[(3, 1.5), (4, 1.45), (5, 1.4)], [(5, 1.35), (6, 1.32)], [(8, 1.38), (9, 1.42)], [(13, 1.45), (14, 1.4)],
            [(14, 1.5), (15, 1.48), (16, 1.45)], [(17, 1.5), (18, 1.45)], [(19, 1.3), (20, 1.28)],
            [(20, 1.35), (21, 1.32)], [(21, 1.25), (22, 1.2)], [(22, 1.3), (23, 1.28)], [(23, 1.15), (24, 1.12)],
            [(24, 1.25), (25, 1.22)], [(25, 1.1), (26, 1.05)], [(26, 1.2), (27, 1.18)], [(27, 1.0), (28, 0.98)],
            [(28, 1.15), (29, 1.12)], [(29, 1.05), (30, 1.08)], [(24, 1.32), (25, 1.3)], [(26, 1.3)],
            [(18, 1.15), (19, 1.12)], [(20, 1.18), (21, 1.15)], [(22, 1.1), (23, 1.08)], [(23, 1.25), (24, 1.22)],
            [(25, 1.15), (26, 1.12)], [(27, 1.12), (28, 1.1)], [(28, 1.05), (29, 1.02)], [(26, 1.25), (27, 1.22)],
            [(21, 1.3), (22, 1.28)]],
    'e34': [[(1, 1.35)], [(4, 1.4), (5, 1.52)], [(7, 1.25), (8, 1.3)], [(10, 1.65), (11, 1.58), (12, 1.45)],
            [(12, 1.25), (13, 1.2)], [(13, 1.35), (14, 1.3)], [(14, 1.1), (15, 1.15)], [(15, 1.28), (16, 1.25)],
            [(16, 1.0), (17, 0.98)], [(17, 1.2), (18, 1.15)], [(18, 1.05), (19, 1.0)], [(19, 0.9), (20, 0.85)],
            [(11, 1.15), (12, 1.12)], [(9, 1.2)], [(15, 1.4)]],
    'e44': [[(2, 1.28)], [(3, 1.3)], [(14, 1.22), (15, 1.18)], [(16, 1.15), (17, 1.12)], [(17, 1.28), (18, 1.2)],
            [(18, 1.1), (19, 1.05)], [(19, 1.15), (20, 1.12)]],
}
F_FDG_FIT = {
    'e33': [(-5, 1.39), (0, 1.385), (5, 1.375), (10, 1.36), (15, 1.33), (18, 1.3), (20, 1.27), (22, 1.24),
            (24, 1.2), (26, 1.16), (28, 1.11), (30, 1.05)],
    'e34': [(-5, 1.365), (0, 1.355), (5, 1.34), (10, 1.3), (13, 1.25), (15, 1.2), (17, 1.13), (19, 1.04),
            (20, 0.99), (21, 0.94), (22, 0.88), (23, 0.83), (23.6, 0.8)],
    'e44': [(-5, 1.34), (0, 1.335), (5, 1.32), (10, 1.285), (13, 1.24), (15, 1.2), (17, 1.14), (19, 1.07),
            (20, 1.02), (21, 0.97), (22, 0.92), (23, 0.87), (24, 0.83), (24.8, 0.8)],
}

# (title, unit label, ylim, yticks)
PANELS = [
    ('CSF Aβ', '(x10² pg/mL)', (0, 3), [0, 1, 2, 3]),
    ('アミロイドPET', '', (0.5, 3), [0.5, 1, 1.5, 2, 2.5, 3]),
    ('CSF Tau', '(x10² pg/mL)', (0, 5), [0, 1, 2, 3, 4, 5]),
    ('海馬容積', '(x10³ mm³)', (2, 10), [2, 4, 6, 8, 10]),
    ('脳室容積', '(x10⁶ mm³)', (0, 2), [0, 0.5, 1, 1.5, 2]),
    ('CDR-SB', '', (0, 18.7), [0, 5, 10, 15]),
    ('FDG-PET', '', (0.8, 1.8), [0.8, 1, 1.2, 1.4, 1.6, 1.8]),
]
MALE = [(M_ABETA, M_ABETA_FIT), (M_AMY, M_AMY_FIT), (M_TAU, M_TAU_FIT), (M_HIP, M_HIP_FIT),
        (M_VENT, M_VENT_FIT), (M_CDR, M_CDR_FIT), (M_FDG, M_FDG_FIT)]
FEMALE = [(F_ABETA, F_ABETA_FIT), (F_AMY, F_AMY_FIT), (F_TAU, F_TAU_FIT), (F_HIP, F_HIP_FIT),
          (F_VENT, F_VENT_FIT), (F_CDR, F_CDR_FIT), (F_FDG, F_FDG_FIT)]


def traj_frame(traj):
    rows = []
    for g in GENO:
        for i, tr in enumerate(traj.get(g, [])):
            for t, v in tr:
                rows.append((t, v, g, f'{g}_{i}'))
    return pd.DataFrame(rows, columns=['t', 'v', 'g', 's'])


def fit_frame(fit):
    rows = [(t, v, g) for g in GENO for t, v in fit.get(g, [])]
    return pd.DataFrame(rows, columns=['t', 'v', 'g'])


sns.set_theme(style='white')
plt.rcParams['font.family'] = ['Liberation Sans', 'Noto Sans CJK JP', 'DejaVu Sans']
plt.rcParams['axes.unicode_minus'] = False

W, H = 687, 704
fig = plt.figure(figsize=(W / 100, H / 100), dpi=100)

COL_X = [51, 224, 391, 558]
ROW_TOP = {'a': (60, 218), 'b': (414, 573)}
AX_W, AX_H = 125, 101


def px_axes(left, top):
    return fig.add_axes([left / W, 1 - (top + AX_H) / H, AX_W / W, AX_H / H])


def draw_panel(ax, traj, fit, spec):
    title, unit, ylim, yticks = spec
    df = traj_frame(traj)
    sns.lineplot(data=df, x='t', y='v', hue='g', hue_order=GENO, palette=COLORS, units='s',
                 estimator=None, sort=False, lw=0.6, alpha=0.8, legend=False, ax=ax)
    sns.scatterplot(data=df, x='t', y='v', hue='g', hue_order=GENO, palette=COLORS, s=8,
                    linewidth=0, legend=False, ax=ax, zorder=3)
    fdf = fit_frame(fit)
    sns.lineplot(data=fdf, x='t', y='v', hue='g', hue_order=GENO, palette=FIT_COLORS,
                 estimator=None, sort=False, lw=1.6, legend=False, ax=ax, zorder=4)
    ax.set_xlim(-5, 30)
    ax.set_ylim(*ylim)
    ax.set_xticks([0, 10, 20, 30])
    ax.set_yticks(yticks)
    ax.set_yticklabels([f'{v:g}' for v in yticks])
    ax.set_xlabel('Time (year)', fontsize=9.5, labelpad=2.5)
    ax.set_ylabel('')
    ax.set_title(title, fontsize=11, pad=4)
    if unit:
        ax.text(0.17, 1.06, unit, transform=ax.transAxes, ha='right', va='bottom', fontsize=6.3)
    ax.tick_params(direction='in', length=2, width=0.6, labelsize=9.5, pad=2, colors='#262626',
                   top=True, right=True)
    for sp in ax.spines.values():
        sp.set_color('#808080')
        sp.set_linewidth(0.8)


def draw_legend(left, top):
    lax = fig.add_axes([left / W, 1 - (top + 105) / H, 125 / W, 105 / H])
    lax.axis('off')
    handles = [Line2D([], [], color=COLORS[g], marker='o', ms=4, lw=1.2) for g in GENO]
    leg = lax.legend(handles, GENO_LABELS, title='ApoE 遺伝子型', loc='center', mode='expand',
                     bbox_to_anchor=(0, 0, 1, 1), borderaxespad=0, fontsize=9, title_fontsize=9.5,
                     handlelength=1.8, handletextpad=0.35, labelspacing=0.55, borderpad=0.55,
                     fancybox=False, frameon=True)
    leg.get_frame().set_edgecolor('#404040')
    leg.get_frame().set_linewidth(0.9)


for key, data, header in [('a', MALE, '男性のAD病態進行'), ('b', FEMALE, '女性のAD病態進行')]:
    top1, top2 = ROW_TOP[key]
    slots = [(COL_X[0], top1), (COL_X[1], top1), (COL_X[2], top1),
             (COL_X[0], top2), (COL_X[1], top2), (COL_X[2], top2), (COL_X[3], top2)]
    for (left, top), (traj, fit), spec in zip(slots, data, PANELS):
        draw_panel(px_axes(left, top), traj, fit, spec)
    draw_legend(COL_X[3], top1 - 2)
    hy = top1 - 40
    fig.text(10 / W, 1 - hy / H, key, fontsize=15, fontweight='bold', va='center')
    fig.text(38 / W, 1 - hy / H, header, fontsize=11, va='center', color='#222222')
    fig.add_artist(Line2D([38 / W, 168 / W], [1 - (hy + 8) / H] * 2, color='#222222', lw=0.9))

fig.savefig('out.png', dpi=100)
